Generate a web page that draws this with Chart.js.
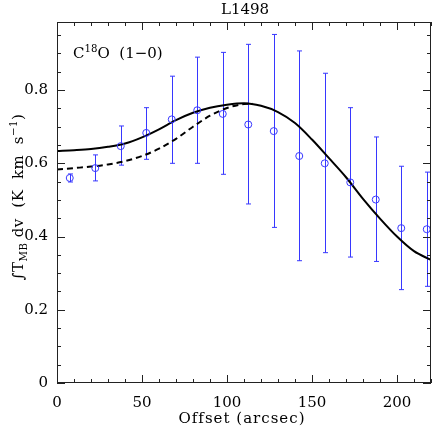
<!DOCTYPE html>
<html lang="en">
<head>
    <meta charset="UTF-8">
    <title>L1498</title>
    <script src="https://cdn.jsdelivr.net/npm/chart.js"></script>
    <style>
        html, body { margin: 0; padding: 0; background: #fff; }
        #wrap { width: 436px; height: 432px; }
    </style>
</head>
<body>
<div id="wrap">
    <canvas id="profile"></canvas>
</div>

<script>
    // observed C18O(1-0) integrated intensity vs offset
    const offsets   = [7.5, 22.5, 37.5, 52.5, 67.5, 82.5, 97.5, 112.5, 127.5, 142.5, 157.5, 172.5, 187.5, 202.5, 217.5];
    const intensity = [0.560, 0.587, 0.647, 0.683, 0.720, 0.745, 0.735, 0.706, 0.688, 0.620, 0.600, 0.548, 0.501, 0.423, 0.420];
    const errLow    = [0.549, 0.552, 0.595, 0.611, 0.600, 0.600, 0.570, 0.489, 0.425, 0.334, 0.356, 0.344, 0.332, 0.255, 0.264];
    const errHigh   = [0.571, 0.623, 0.702, 0.752, 0.838, 0.890, 0.903, 0.925, 0.952, 0.907, 0.846, 0.752, 0.672, 0.592, 0.576];

    // model curves
    const modelX      = [0, 10, 20, 30, 40, 50, 60, 70, 80, 90, 100, 110, 120, 130, 140, 150, 160, 170, 180, 190, 200, 210, 220];
    const modelSolid  = [0.634, 0.636, 0.639, 0.645, 0.654, 0.671, 0.693, 0.718, 0.738, 0.752, 0.760, 0.764, 0.757, 0.740, 0.710, 0.665, 0.614, 0.562, 0.503, 0.449, 0.400, 0.360, 0.336];
    const dashedX     = [0, 10, 20, 30, 40, 50, 60, 70, 80, 90, 100, 110, 115];
    const modelDashed = [0.583, 0.587, 0.591, 0.597, 0.606, 0.620, 0.640, 0.667, 0.700, 0.730, 0.751, 0.762, 0.763];

    const xTicks = [0, 50, 100, 150, 200];
    const yTicks = [0, 0.2, 0.4, 0.6, 0.8];

    const FONT = 'DejaVu Serif';
    const BLUE = 'rgb(55,55,255)';

    // draw a run of text pieces, some of them raised or lowered
    function richText(ctx, parts, x, y, size, align) {
        let total = 0;
        parts.forEach(p => {
            ctx.font = (p.shift ? size * 0.68 : size) + 'px "' + FONT + '"';
            p.w = ctx.measureText(p.t).width;
            total += p.w;
        });
        let cx = align === 'center' ? x - total / 2 : x;
        parts.forEach(p => {
            ctx.font = (p.shift ? size * 0.68 : size) + 'px "' + FONT + '"';
            let dy = 0;
            if (p.shift === 'sup') dy = -size * 0.42;
            if (p.shift === 'sub') dy = size * 0.25;
            ctx.fillText(p.t, cx, y + dy);
            cx += p.w;
        });
    }

    const errorBars = {
        id: 'errorBars',
        beforeDatasetsDraw(chart) {
            const ctx = chart.ctx;
            const xs = chart.scales.x, ys = chart.scales.y;
            ctx.save();
            ctx.strokeStyle = BLUE;
            ctx.lineWidth = 1;
            offsets.forEach((o, i) => {
                const px = Math.round(xs.getPixelForValue(o)) + 0.5;
                const lo = ys.getPixelForValue(errLow[i]);
                const hi = ys.getPixelForValue(errHigh[i]);
                ctx.beginPath();
                ctx.moveTo(px, lo);
                ctx.lineTo(px, hi);
                ctx.moveTo(px - 2.5, lo);
                ctx.lineTo(px + 2.5, lo);
                ctx.moveTo(px - 2.5, hi);
                ctx.lineTo(px + 2.5, hi);
                ctx.stroke();
            });
            ctx.restore();
        }
    };

    const frameAndText = {
        id: 'frameAndText',
        afterDraw(chart) {
            const ctx = chart.ctx;
            const a = chart.chartArea;
            const xs = chart.scales.x, ys = chart.scales.y;
            ctx.save();
            ctx.strokeStyle = '#222';
            ctx.lineWidth = 1;
            ctx.strokeRect(a.left + 0.5, a.top + 0.5, a.right - a.left - 1, a.bottom - a.top - 1);

            // inward ticks on all four sides
            ctx.beginPath();
            for (let v = 0; v <= 220; v += 10) {
                const px = Math.round(xs.getPixelForValue(v)) + 0.5;
                const len = v % 50 === 0 ? 8 : 4;
                ctx.moveTo(px, a.bottom);
                ctx.lineTo(px, a.bottom - len);
                ctx.moveTo(px, a.top);
                ctx.lineTo(px, a.top + len);
            }
            for (let k = 0; k <= 19; k++) {
                const v = k * 0.05;
                const py = Math.round(ys.getPixelForValue(v)) + 0.5;
                const len = k % 4 === 0 ? 8 : 4;
                ctx.moveTo(a.left, py);
                ctx.lineTo(a.left + len, py);
                ctx.moveTo(a.right, py);
                ctx.lineTo(a.right - len, py);
            }
            ctx.stroke();

            ctx.fillStyle = '#000';
            ctx.textBaseline = 'alphabetic';
            ctx.textAlign = 'center';
            ctx.font = '15px "' + FONT + '"';
            ctx.fillText('L1498', 245, 14);
            ctx.letterSpacing = '1px';
            ctx.fillText('Offset (arcsec)', 242, 423);

            ctx.letterSpacing = '0px';
            ctx.textAlign = 'left';
            richText(ctx, [
                {t: 'C'}, {t: '18', shift: 'sup'}, {t: 'O  (1\u22120)'}
            ], 73, 58, 15, 'left');

            ctx.letterSpacing = '0.5px';
            ctx.translate(23, 197);
            ctx.rotate(-Math.PI / 2);
            richText(ctx, [
                {t: '\u222BT'}, {t: 'MB', shift: 'sub'}, {t: ' dv  (K  km  s'},
                {t: '\u22121', shift: 'sup'}, {t: ')'}
            ], 0, 0, 15, 'center');
            ctx.restore();
        }
    };

    new Chart(document.getElementById('profile'), {
        type: 'scatter',
        data: {
            datasets: [{
                label: 'C18O data',
                data: offsets.map((o, i) => ({x: o, y: intensity[i]})),
                pointStyle: 'circle',
                pointRadius: 3.5,
                pointBorderWidth: 1,
                pointBorderColor: BLUE,
                pointBackgroundColor: 'rgba(0,0,0,0)'
            }, {
                type: 'line',
                label: 'model',
                data: modelX.map((x, i) => ({x: x, y: modelSolid[i]})),
                borderColor: '#000',
                borderWidth: 2,
                pointRadius: 0,
                cubicInterpolationMode: 'monotone'
            }, {
                type: 'line',
                label: 'model (dashed)',
                data: dashedX.map((x, i) => ({x: x, y: modelDashed[i]})),
                borderColor: '#000',
                borderWidth: 2,
                borderDash: [6, 4],
                pointRadius: 0,
                cubicInterpolationMode: 'monotone'
            }]
        },
        options: {
            responsive: true,
            maintainAspectRatio: false,
            animation: false,
            events: [],
            layout: { padding: { top: 22, right: 1, left: 0, bottom: 0 } },
            plugins: {
                legend: { display: false },
                tooltip: { enabled: false }
            },
            scales: {
                x: {
                    type: 'linear',
                    min: 0,
                    max: 220,
                    afterBuildTicks: s => { s.ticks = xTicks.map(v => ({value: v})); },
                    afterFit: s => { s.height = 49; },
                    grid: { display: false, drawTicks: false },
                    border: { display: false },
                    ticks: {
                        padding: 11,
                        maxRotation: 0,
                        color: '#000',
                        font: { family: FONT, size: 15 }
                    }
                },
                y: {
                    type: 'linear',
                    min: 0,
                    max: 0.986,
                    afterBuildTicks: s => { s.ticks = yTicks.map(v => ({value: v})); },
                    afterFit: s => { s.width = 57; },
                    grid: { display: false, drawTicks: false },
                    border: { display: false },
                    ticks: {
                        padding: 9,
                        color: '#000',
                        font: { family: FONT, size: 15 },
                        callback: v => String(v)
                    }
                }
            }
        },
        plugins: [errorBars, frameAndText]
    });
</script>
</body>
</html>
